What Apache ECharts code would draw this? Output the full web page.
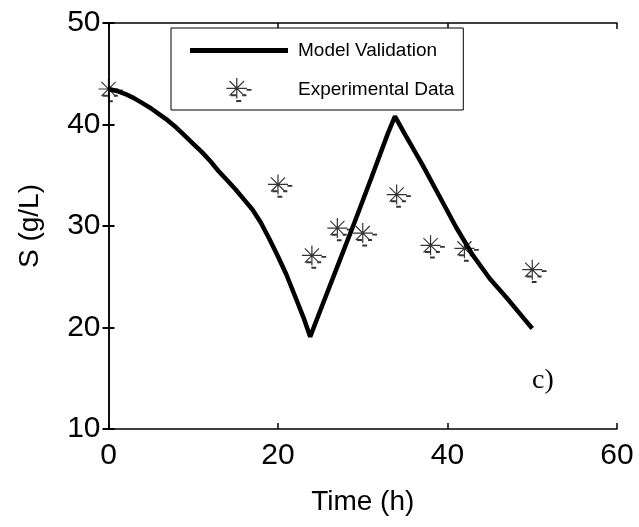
<!DOCTYPE html>
<html>
<head>
<meta charset="utf-8">
<script src="https://cdn.jsdelivr.net/npm/echarts@6/dist/echarts.min.js"></script>
<style>
html,body{margin:0;padding:0;background:#fff;}
#chart{width:639px;height:527px;}
</style>
</head>
<body>
<div id="chart"></div>
<script>
// ---- data ----
const modelTime = [0, 1, 2, 3, 4, 5, 6, 7, 8, 9, 10, 11, 12, 13, 14, 15, 16, 17, 18, 19, 20, 21, 22, 23, 23.8,
                   25, 27, 29, 31, 33, 33.8,
                   35, 37, 39, 41, 43, 45, 47, 49, 50];
const modelS = [43.5, 43.3, 43.0, 42.6, 42.1, 41.6, 41.0, 40.4, 39.7, 38.9, 38.1, 37.3, 36.4, 35.4, 34.5, 33.6, 32.6, 31.6, 30.3, 28.7, 27.0, 25.2, 23.1, 21.0, 19.1,
                21.7, 26.0, 30.3, 34.7, 39.2, 40.8,
                39.0, 36.1, 33.0, 29.9, 27.1, 24.8, 22.9, 20.9, 19.9];
const expTime = [0, 20, 24, 27, 30, 34, 38, 42, 50];
const expS = [43.5, 34.1, 27.1, 29.8, 29.3, 33.1, 28.1, 27.8, 25.7];
const xTicks = [0, 20, 40, 60];
const yTicks = [10, 20, 30, 40, 50];
const seriesNames = ['Model Validation', 'Experimental Data'];
const panelLabel = 'c)';

// asterisk with dashes (MATLAB '*-' style marker)
const starPath = 'path://M0 9.4L20 9.4L20 10.6L0 10.6Z' +
  'M9.4 0L10.6 0L10.6 20L9.4 20Z' +
  'M2.5 3.3L3.3 2.5L17.5 16.7L16.7 17.5Z' +
  'M16.7 2.5L17.5 3.3L3.3 17.5L2.5 16.7Z' +
  'M19.5 10.6L24.3 10.6L24.3 12.4L19.5 12.4Z' +
  'M4.3 15.8L9.3 15.8L9.3 17.8L4.3 17.8Z' +
  'M15.3 15.8L19.3 15.8L19.3 17.8L15.3 17.8Z' +
  'M9.5 21.3L14.3 21.3L14.3 23.3L9.5 23.3Z';
const lineIcon = 'path://M0 0L98 0L98 5L0 5Z';

const FONT = "'Liberation Sans', Arial, sans-serif";

const chart = echarts.init(document.getElementById('chart'), null, {renderer: 'canvas'});

const axisLineStyle = {color: '#000', width: 1.5};
const xBase = {
  type: 'value', min: xTicks[0], max: xTicks[xTicks.length - 1], interval: 20,
  splitLine: {show: false},
  axisLine: {show: true, lineStyle: axisLineStyle},
  axisTick: {show: true, inside: true, length: 6, lineStyle: {color: '#000', width: 1.5}}
};
const yBase = {
  type: 'value', min: yTicks[0], max: yTicks[yTicks.length - 1], interval: 10,
  splitLine: {show: false},
  axisLine: {show: true, lineStyle: axisLineStyle},
  axisTick: {show: true, inside: true, length: 6, lineStyle: {color: '#000', width: 2}}
};

const option = {
  animation: false,
  backgroundColor: '#fff',
  grid: {left: 108.5, right: 22, top: 23, bottom: 98, containLabel: false},
  xAxis: [
    Object.assign({}, xBase, {
      position: 'bottom',
      name: 'Time (h)', nameLocation: 'middle', nameGap: 59,
      nameTextStyle: {fontFamily: FONT, fontSize: 28, color: '#000'},
      axisLabel: {show: true, margin: 12, fontFamily: FONT, fontSize: 30, color: '#000'}
    }),
    Object.assign({}, xBase, {position: 'top', axisLabel: {show: false}})
  ],
  yAxis: [
    Object.assign({}, yBase, {
      position: 'left',
      name: 'S (g/L)', nameLocation: 'middle', nameGap: 64, nameRotate: 90,
      nameTextStyle: {fontFamily: FONT, fontSize: 28, color: '#000'},
      axisLabel: {show: true, margin: 8, fontFamily: FONT, fontSize: 30, color: '#000'}
    }),
    Object.assign({}, yBase, {position: 'right', axisLabel: {show: false}})
  ],
  legend: {
    orient: 'vertical',
    left: 171, top: 28,
    backgroundColor: '#fff',
    borderColor: '#000', borderWidth: 1,
    padding: [13, 9, 8, 19],
    itemWidth: 98, itemHeight: 24, itemGap: 18,
    textStyle: {fontFamily: FONT, fontSize: 19, color: '#000', padding: [0, 0, 0, 5]},
    data: [
      {name: seriesNames[0], icon: lineIcon},
      {name: seriesNames[1], icon: starPath}
    ]
  },
  graphic: [{
    type: 'text', left: 532, top: 367, z: 10,
    style: {text: panelLabel, font: "28px 'Liberation Serif', 'Times New Roman', serif", fill: '#000'}
  }],
  series: [
    {
      name: seriesNames[0], type: 'line',
      xAxisIndex: 0, yAxisIndex: 0,
      data: modelTime.map((t, i) => [t, modelS[i]]),
      showSymbol: false, symbol: 'none',
      lineStyle: {color: '#000', width: 4.5},
      itemStyle: {color: '#000'},
      z: 3
    },
    {
      name: seriesNames[1], type: 'scatter',
      xAxisIndex: 0, yAxisIndex: 0,
      data: expTime.map((t, i) => [t, expS[i]]),
      symbol: starPath, symbolSize: [24.3, 23.3], symbolOffset: [2.15, 1.65],
      itemStyle: {color: '#000'},
      clip: false,
      z: 4
    }
  ]
};
chart.setOption(option);
</script>
</body>
</html>
